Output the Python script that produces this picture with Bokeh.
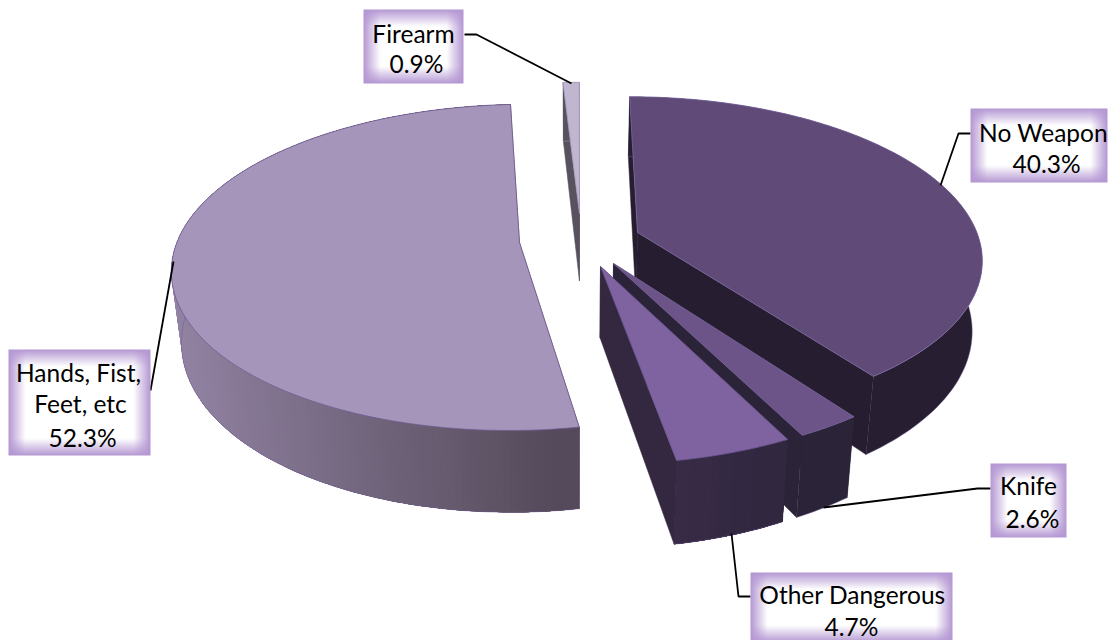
import numpy as np
from bokeh.plotting import figure
from bokeh.models import Range1d
from bokeh.core.properties import value
from bokeh.embed import file_html
from bokeh.resources import INLINE

# ---- data (clockwise from 12 o'clock)
categories = ["No Weapon", "Knife", "Other Dangerous", "Hands, Fist, Feet, etc", "Firearm"]
shares = [40.3, 2.6, 4.7, 52.3, 0.9]

label_lines = [
    ["No Weapon", "40.3%"],
    ["Knife", "2.6%"],
    ["Other Dangerous", "4.7%"],
    ["Hands, Fist,", "Feet, etc", "52.3%"],
    ["Firearm", "0.9%"],
]

# ---- styling / geometry
top_col = ["#5f4a78", "#6c5489", "#7f62a0", "#a595ba", "#c0b6d0"]
wall_col = ["#261d30", "#2b2338", "#33283f", "#544a5a", "#58525f"]
out_left = ["#271e31", "#2b2338", "#3a2c48", "#9384a4", "#58525f"]
out_right = ["#271e31", "#2b2338", "#31273f", "#544a5a", "#58525f"]
edge_col = ["#7a68a0", "#7a68a0", "#6a5590", "#6f5c92", "#a89cc0"]
apex_px = [(637, 232), (613, 263), (600, 266), (519, 242), (579, 213)]
paint_order = [4, 0, 3, 1, 2]
boxes = [(970, 1107, 108, 182), (990, 1066, 463, 537), (750, 952, 572, 642),
         (8, 150, 349, 455), (363, 463, 9, 83)]
text_pos = [
    [(1043, 132), (1046, 163)],
    [(1028, 485), (1032, 518)],
    [(852, 594), (851, 626)],
    [(78, 372), (80, 403), (82, 437)],
    [(413, 33), (416, 63)],
]
leaders = [
    [(970, 133), (958, 133), (940, 185)],
    [(990, 488), (977, 488), (823, 507)],
    [(731, 533), (738, 596), (750, 596)],
    [(150, 390), (173, 261)],
    [(464, 34), (476, 34), (571, 83)],
]

CX, CY, R, RY, K, DEPTH, SHRINK = 577.0, 237.0, 341.0, 157.8, 0.1517, 69.0, 0.975


def w_of(v):
    return 1.0 / (1.0 - K * v)


def top_xy(u, v):
    w = w_of(v)
    return CX + R * u * w, CY + RY * v * w


def bot_xy(u, v):
    x, y = top_xy(u, v)
    return CX + (x - CX) * SHRINK, y + DEPTH * w_of(v)


def apex_uv(px):
    dx, dy = px[0] - CX, px[1] - CY
    v = dy / (RY + K * dy)
    return dx / (R * w_of(v)), v


def rgb(h):
    return np.array([int(h[i:i + 2], 16) for i in (1, 3, 5)], dtype=float)


def lerp_hex(a, b, t):
    c = rgb(a) + (rgb(b) - rgb(a)) * t
    return "#%02x%02x%02x" % tuple(int(round(x)) for x in c)


p = figure(width=1108, height=640, x_range=Range1d(0, 1108), y_range=Range1d(640, 0),
           output_backend="svg", toolbar_location=None, min_border=0)
p.axis.visible = False
p.grid.visible = False
p.outline_line_color = None
p.background_fill_color = "#ffffff"
p.border_fill_color = "#ffffff"

cum = np.concatenate([[0.0], np.cumsum(shares)]) / sum(shares) * 2 * np.pi

for i in paint_order:
    a0, a1 = cum[i], cum[i + 1]
    au, av = apex_uv(apex_px[i])
    th = np.linspace(a0, a1, max(int(np.degrees(a1 - a0)), 2) + 1)
    us = au + np.sin(th)
    vs = av - np.cos(th)
    tx, ty = zip(*[top_xy(u, v) for u, v in zip(us, vs)])
    bx, by = zip(*[bot_xy(u, v) for u, v in zip(us, vs)])
    ax_t, ay_t = top_xy(au, av)
    ax_b, ay_b = bot_xy(au, av)
    # radial walls
    for k in (0, -1):
        p.patch([ax_t, tx[k], bx[k], ax_b], [ay_t, ty[k], by[k], ay_b],
                fill_color=wall_col[i], line_color=wall_col[i], line_width=0.5)
    # outer wall: one solid base, then overlapping strips for the gradient
    p.patch(list(tx) + list(bx)[::-1], list(ty) + list(by)[::-1],
            fill_color=lerp_hex(out_left[i], out_right[i], 0.5), line_color=None)
    if out_left[i] != out_right[i]:
        xs, ys, cols = [], [], []
        xlo, xhi = min(tx), max(tx)
        order = range(len(th) - 1) if tx[0] < tx[-1] else range(len(th) - 2, -1, -1)
        n = len(th) - 1
        for j in order:
            e = min(j + 4, n)
            s = max(j - 3, 0)
            xs.append(list(tx[s:e + 1]) + list(bx[s:e + 1])[::-1])
            ys.append(list(ty[s:e + 1]) + list(by[s:e + 1])[::-1])
            t = (0.5 * (tx[j] + tx[j + 1]) - xlo) / max(xhi - xlo, 1)
            cols.append(lerp_hex(out_left[i], out_right[i], t))
        p.patches(xs, ys, fill_color=cols, line_color=None)
    # thin lighter fringe along bottom of the outer wall
    p.line(list(bx), list(by), line_color=edge_col[i], line_width=1, line_alpha=0.45)
    # top face
    p.patch([ax_t] + list(tx), [ay_t] + list(ty), fill_color=top_col[i],
            line_color=edge_col[i], line_width=1, line_alpha=0.8)

# leader lines
for pts in leaders:
    p.line([q[0] for q in pts], [q[1] for q in pts], line_color="#000000", line_width=1.8)

# label boxes with a soft inner glow
GLOW, EDGE = 17.0, rgb("#b497d3")
for (x0, x1, y0, y1) in boxes:
    bw, bh = int(x1 - x0), int(y1 - y0)
    xx, yy = np.meshgrid(np.arange(bw) + 0.5, np.arange(bh) + 0.5)
    dx = np.clip(np.minimum(xx, bw - xx) / GLOW, 0, 1)
    dy = np.clip(np.minimum(yy, bh - yy) / GLOW, 0, 1)
    f = 1 - dx * dy
    img = np.zeros((bh, bw), dtype=np.uint32)
    view = img.view(dtype=np.uint8).reshape((bh, bw, 4))
    for c in range(3):
        view[:, :, c] = np.round(255 + (EDGE[c] - 255) * f).astype(np.uint8)
    view[:, :, 3] = 255
    p.image_rgba(image=[img], x=[x0], y=[y0], dw=[bw], dh=[bh])

for lines, pos in zip(label_lines, text_pos):
    p.text(x=[q[0] for q in pos], y=[q[1] for q in pos], text=lines,
           text_font=value("Lato"), text_font_size="24.5px", text_color="#000000",
           text_align="center", text_baseline="middle")

open("out.html", "w").write(file_html(p, INLINE))
